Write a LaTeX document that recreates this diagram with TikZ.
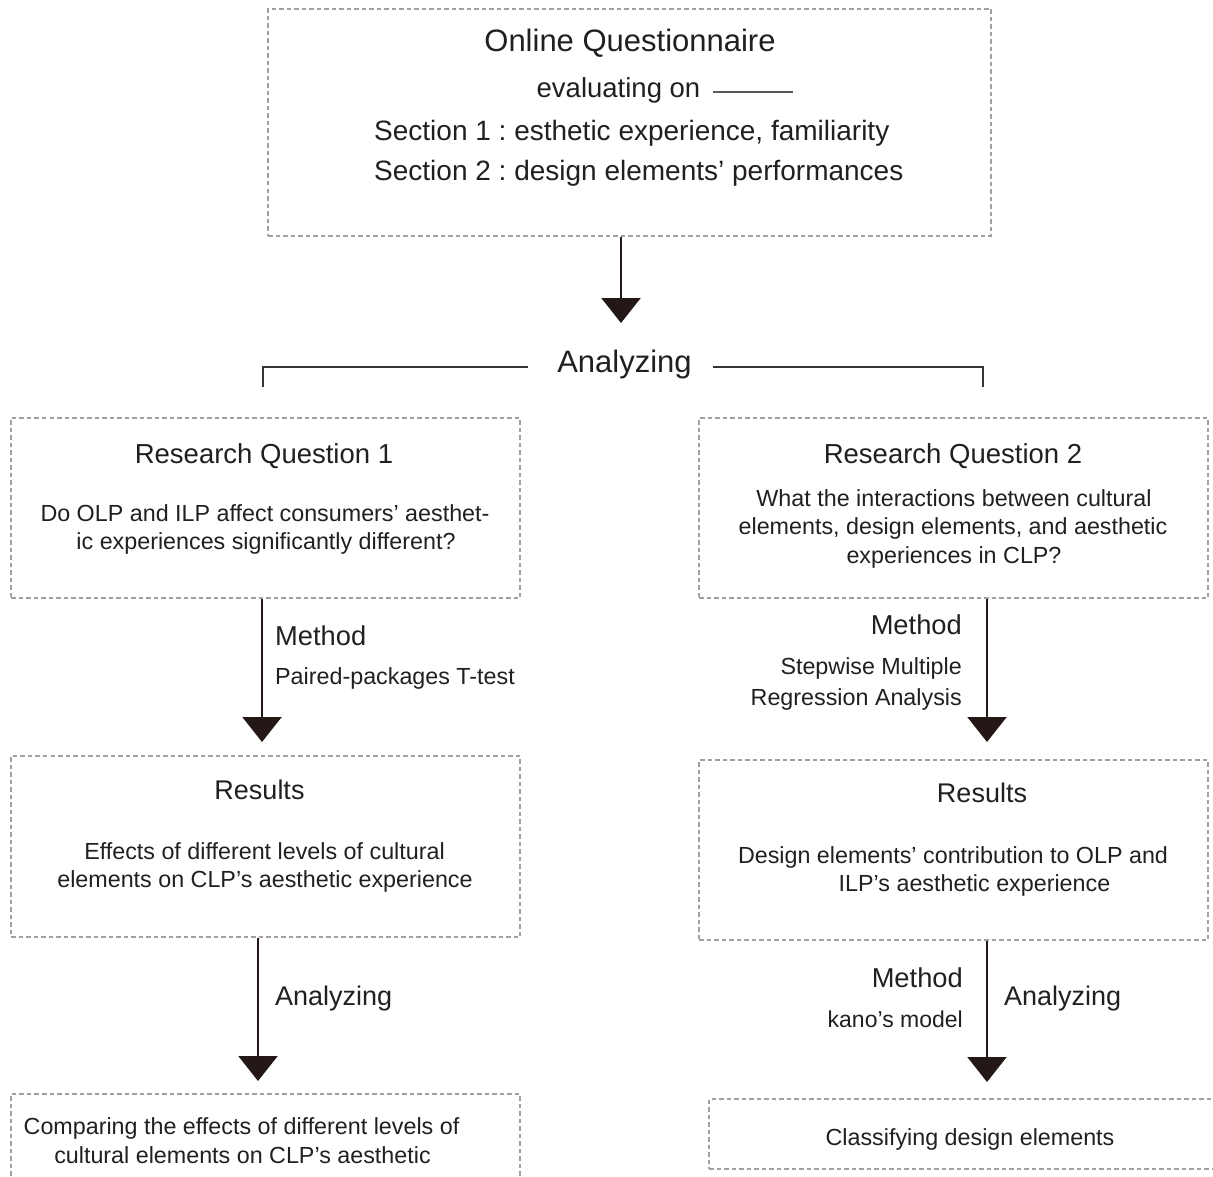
\documentclass[tikz,border=0pt]{standalone}
\usepackage{fontspec}
\setmainfont{Liberation Sans}
\usetikzlibrary{arrows.meta}
\newcommand\myfs[1]{\fontsize{#1}{#1}\selectfont}
\definecolor{ink}{HTML}{231F20}
\definecolor{arrowink}{HTML}{231815}
\definecolor{dashgray}{HTML}{A0A0A0}
\frenchspacing
\tikzset{
  box/.style={draw=dashgray, line width=1.4pt, dash pattern=on 4.5pt off 3pt, inner sep=0pt},
  txt/.style={anchor=base, inner sep=0pt, text=ink},
  arr/.style={draw=arrowink, line width=2.2pt, -{Triangle[width=39pt,length=25pt]}, arrowink},
  bracket/.style={draw=ink!90, line width=2.3pt},
}
\begin{document}
\begin{tikzpicture}[x=1pt, y=-1pt]
\useasboundingbox (0,0) rectangle (1213,1177);
\clip (0,0) rectangle (1213,1177);
\fill[white] (0,0) rectangle (1213,1177);

% boxes
\node[box, minimum width=723, minimum height=227] (top) at (629.5,122.5) {};
\node[box, minimum width=509, minimum height=180] (rq1) at (265.5,508) {};
\node[box, minimum width=509, minimum height=180] (rq2) at (953.5,508) {};
\node[box, minimum width=509, minimum height=181] (res1) at (265.5,846.5) {};
\node[box, minimum width=509, minimum height=180] (res2) at (953.5,850) {};
\node[box, minimum width=509, minimum height=120] (fin1) at (265.5,1154) {};
\node[box, minimum width=531, minimum height=70] (fin2) at (974.5,1134) {};

% top box text
\node[txt] (tq) at (630,52) {\myfs{31}Online Questionnaire};
\node[txt] (ev) at (618.5,98) {\myfs{27.5}evaluating on};
\coordinate (evA) at (713,92);
\coordinate (evB) at (793,92);
\draw[ink!75, line width=2pt] (evA) -- (evB);
\node[txt, anchor=base west] (s1) at (374,141) {\myfs{28}Section 1 : esthetic experience, familiarity};
\node[txt, anchor=base west] (s2) at (374,181) {\myfs{28}Section 2 : design elements' performances};

% top arrow and Analyzing bracket
\coordinate (t1) at (621,323);
\draw[arr] (t1 |- top.south) -- (t1);
\node[txt] (ana) at (624.5,372) {\myfs{31}Analyzing};
\coordinate (brL) at (528,367);
\coordinate (brR) at (713,367);
\coordinate (brLd) at (263,387);
\coordinate (brRd) at (983,387);
\draw[bracket] (brL) -| (brLd);
\draw[bracket] (brR) -| (brRd);

% RQ1
\node[txt] (rq1t) at (264,463) {\myfs{27.5}Research Question 1};
\node[txt] (rq1a) at (265,521) {\myfs{23.3}Do OLP and ILP affect consumers' aesthet-};
\node[txt] (rq1b) at (266,549) {\myfs{23.3}ic experiences significantly different?};

% RQ2
\node[txt] (rq2t) at (953,463) {\myfs{27.5}Research Question 2};
\node[txt] (rq2a) at (954,506) {\myfs{23.3}What the interactions between cultural};
\node[txt] (rq2b) at (953,534) {\myfs{23.3}elements, design elements, and aesthetic};
\node[txt] (rq2c) at (954,563) {\myfs{23.3}experiences in CLP?};

% left arrow 1
\coordinate (a1) at (262,742);
\draw[arr] (a1 |- rq1.south) -- (a1);
\node[txt, anchor=base west] (m1) at (275,645) {\myfs{27.3}Method};
\node[txt, anchor=base west] (m1b) at (275,684) {\myfs{23.3}Paired-packages T-test};

% right arrow 1
\coordinate (a2) at (987,742);
\draw[arr] (a2 |- rq2.south) -- (a2);
\node[txt, anchor=base east] (m2) at (962,634) {\myfs{27.3}Method};
\node[txt, anchor=base east] (m2b) at (962,674) {\myfs{23.3}Stepwise Multiple};
\node[txt, anchor=base east] (m2c) at (962,705) {\myfs{23.3}Regression Analysis};

% Results 1
\node[txt] (r1t) at (259.5,799) {\myfs{27}Results};
\node[txt] (r1a) at (264.5,859) {\myfs{23.3}Effects of different levels of cultural};
\node[txt] (r1b) at (265,887) {\myfs{23.3}elements on CLP's aesthetic experience};

% Results 2
\node[txt] (r2t) at (982,802) {\myfs{27}Results};
\node[txt] (r2a) at (953,863) {\myfs{23.3}Design elements' contribution to OLP and};
\node[txt] (r2b) at (974.5,891) {\myfs{23.3}ILP's aesthetic experience};

% left arrow 2
\coordinate (a3) at (258,1081);
\draw[arr] (a3 |- res1.south) -- (a3);
\node[txt, anchor=base west] (an1) at (275,1005) {\myfs{27}Analyzing};

% right arrow 2
\coordinate (a4) at (987,1082);
\draw[arr] (a4 |- res2.south) -- (a4);
\node[txt, anchor=base east] (m3) at (963,987) {\myfs{27.3}Method};
\node[txt, anchor=base east] (m3b) at (963,1027) {\myfs{23}kano's model};
\node[txt, anchor=base west] (an2) at (1004,1005) {\myfs{27}Analyzing};

% final boxes text
\node[txt] (f1a) at (241.5,1134) {\myfs{23.3}Comparing the effects of different levels of};
\node[txt] (f1b) at (242.5,1163) {\myfs{23.3}cultural elements on CLP's aesthetic};
\node[txt] (f2a) at (970,1145) {\myfs{23.3}Classifying design elements};
\end{tikzpicture}
\end{document}
